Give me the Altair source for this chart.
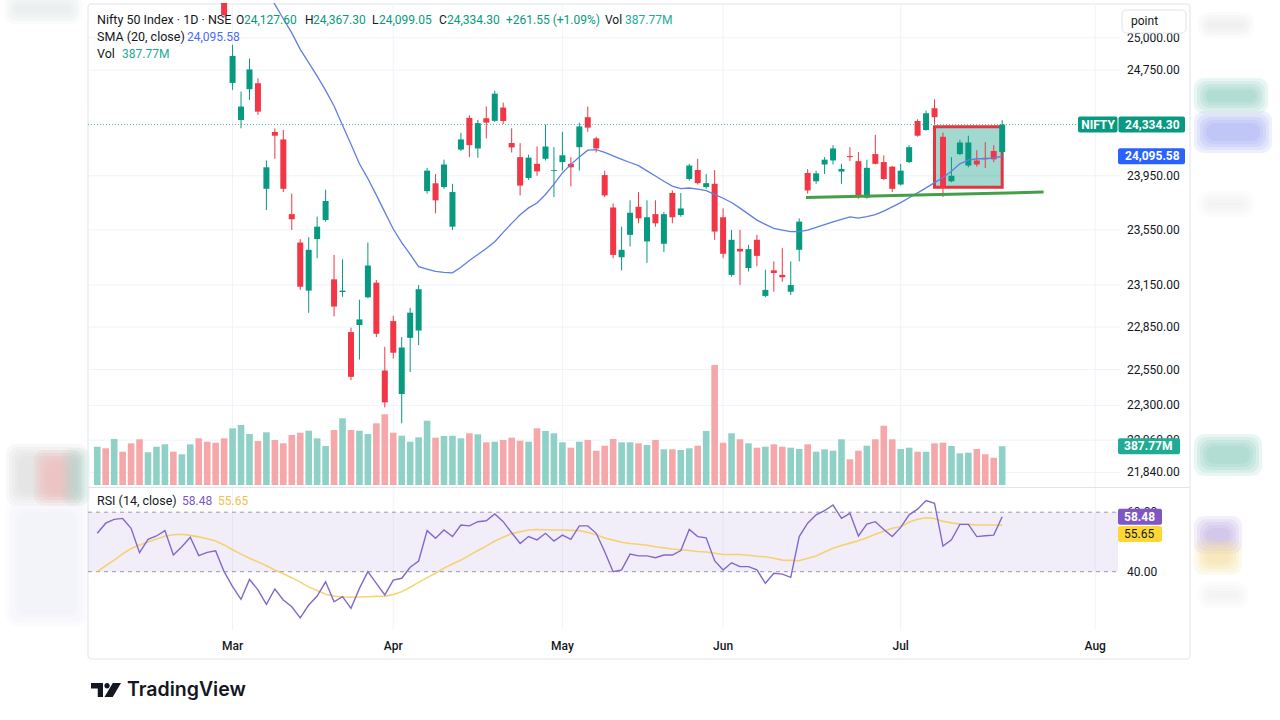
import altair as alt
import pandas as pd

# ---------------- daily sessions, oldest first ----------------
opens = [
    25520, 25650, 25580, 25720, 25660, 25540, 25380, 25470, 25520, 25590,
    25420, 25490, 25600, 25520, 25540, 25480, 24651, 24369, 24603, 24649,
    23853, 24278, 24222, 23666, 23458, 23110, 23483, 23623, 23191, 23100,
    22814, 22864, 23062, 23167, 22543, 22892, 22379, 22773, 22825, 23836,
    23894, 23866, 23574, 24146, 24385, 24154, 24382, 24362, 24463, 24195,
    24089, 23933, 24039, 24077, 23986, 24052, 24039, 24164, 24390, 24230,
    23955, 23715, 23351, 23514, 23720, 23466, 23666, 23449, 23822, 23659,
    23926, 23993, 23866, 23890, 23643, 23223, 23412, 23273, 23478, 23072,
    23256, 23223, 23102, 23405, 23971, 23909, 24034, 24064, 23981, 24097,
    24059, 23788, 24112, 24052, 24018, 23885, 24052, 24361, 24293, 24458,
    24242, 23909, 24112, 24026, 24064, 24084, 24135, 24127.60,
]
highs = [
    25610, 25690, 25700, 25760, 25680, 25560, 25500, 25560, 25620, 25600,
    25520, 25620, 25610, 25560, 25580, 25500, 24945, 24585, 24838, 24687,
    24064, 24306, 24293, 23817, 23483, 23497, 23647, 23846, 23368, 23336,
    22845, 23045, 23458, 23186, 22709, 22930, 22779, 22987, 23150, 24009,
    23963, 24070, 23890, 24272, 24405, 24370, 24471, 24592, 24501, 24306,
    24194, 24108, 24169, 24334, 24164, 24280, 24089, 24349, 24471, 24242,
    23988, 23744, 23574, 23768, 23829, 23768, 23768, 23683, 23841, 23822,
    24039, 24077, 23963, 23993, 23708, 23550, 23550, 23441, 23514, 23261,
    23321, 23417, 23321, 23635, 24000, 23988, 24089, 24179, 24039, 24164,
    24127, 24070, 24257, 24102, 24024, 24039, 24179, 24374, 24440, 24526,
    24273, 24089, 24219, 24250, 24141, 24202, 24179, 24367.30,
]
lows = [
    25480, 25560, 25560, 25640, 25540, 25360, 25350, 25450, 25500, 25420,
    25400, 25470, 25440, 25480, 25500, 25160, 24598, 24306, 24521, 24407,
    23696, 24077, 23829, 23550, 23115, 22951, 23343, 23611, 22926, 23066,
    22476, 22620, 23055, 22779, 22286, 22627, 22176, 22532, 22722, 23817,
    23672, 23853, 23550, 24135, 24089, 24084, 24230, 24354, 24339, 24124,
    23804, 23919, 23950, 24064, 23792, 23988, 23870, 23988, 24280, 24124,
    23792, 23343, 23255, 23429, 23599, 23311, 23574, 23388, 23599, 23647,
    23914, 23885, 23853, 23478, 23343, 23211, 23150, 23248, 23285, 23062,
    23102, 23174, 23079, 23321, 23817, 23890, 23963, 24034, 23890, 24059,
    23780, 23780, 24034, 23919, 23829, 23877, 24044, 24243, 24288, 24339,
    23792, 23901, 24104, 24013, 24018, 24008, 24052, 24099.05,
]
closes = [
    25590, 25600, 25680, 25690, 25560, 25380, 25480, 25530, 25600, 25440,
    25500, 25600, 25460, 25500, 25520, 25177, 24859, 24471, 24755, 24432,
    24013, 24250, 23853, 23628, 23138, 23405, 23574, 23763, 22996, 23110,
    22499, 22904, 23291, 22802, 22321, 22668, 22705, 22952, 23120, 23988,
    23768, 24034, 23829, 24222, 24179, 24345, 24349, 24569, 24361, 24162,
    23877, 24085, 23983, 24169, 23992, 24103, 24013, 24320, 24311, 24154,
    23804, 23368, 23405, 23676, 23635, 23643, 23599, 23666, 23643, 23708,
    24026, 23895, 23895, 23538, 23376, 23478, 23393, 23410, 23361, 23115,
    23237, 23206, 23150, 23611, 23841, 23968, 24070, 24154, 24001, 24089,
    23792, 24009, 24039, 23926, 23853, 23988, 24164, 24250, 24420, 24390,
    23860, 23950, 24199, 24199, 24034, 24074, 24072.75, 24334.30,
]
# volume in millions
volume_m = [
    383, 367, 460, 333, 417, 457, 327, 383, 407, 333,
    307, 407, 467, 433, 423, 467, 567, 600, 510, 440,
    527, 450, 417, 500, 523, 543, 467, 390, 550, 667,
    550, 543, 510, 617, 707, 523, 493, 433, 477, 643,
    473, 490, 493, 467, 517, 507, 427, 433, 450, 473,
    443, 433, 567, 540, 517, 427, 373, 433, 450, 343,
    393, 460, 427, 427, 417, 400, 450, 357, 357, 350,
    367, 393, 540, 1200, 423, 517, 457, 417, 373, 383,
    407, 383, 373, 360, 407, 333, 357, 343, 457, 257,
    343, 393, 457, 593, 457, 360, 373, 333, 333, 417,
    423, 390, 317, 323, 360, 307, 273, 387.77,
]
# 20-session simple moving average of the close (first 19 sessions not shown)
sma20 = [None] * 19 + [
    25450, 25360, 25261, 25148, 25038, 24910, 24807, 24703, 24594, 24475,
    24329, 24186, 24039, 23929, 23806, 23681, 23557, 23457, 23372, 23283,
    23265, 23248, 23241, 23238, 23278, 23327, 23371, 23415, 23464, 23532,
    23598, 23661, 23712, 23748, 23811, 23888, 23972, 24035, 24090, 24141,
    24145, 24125, 24098, 24073, 24049, 24025, 23986, 23948, 23909, 23873,
    23855, 23859, 23851, 23839, 23812, 23783, 23752, 23710, 23666, 23622,
    23591, 23561, 23549, 23537, 23537, 23548, 23569, 23589, 23609, 23628,
    23646, 23636, 23648, 23663, 23688, 23719, 23751, 23787, 23823, 23860,
    23899, 23937, 23983, 24039, 24067, 24077, 24077, 24083, 24095.58,
]
rsi14 = [
    52.9, 56.3, 57.6, 57.9, 54.6, 46.4, 50.9, 52.0, 53.8, 45.6,
    48.4, 51.6, 45.4, 46.5, 47.0, 40.0, 35.0, 30.7, 37.4, 33.9,
    29.0, 34.2, 30.5, 28.2, 24.5, 28.8, 31.8, 36.6, 29.9, 31.6,
    27.7, 34.4, 40.0, 36.1, 32.2, 37.2, 37.8, 41.5, 43.6, 53.8,
    51.2, 54.0, 51.8, 55.7, 55.4, 56.8, 57.1, 59.4, 56.8, 53.1,
    49.5, 51.8, 50.7, 52.9, 50.3, 52.3, 50.9, 55.4, 55.4, 52.9,
    46.7, 40.0, 40.6, 45.9, 45.3, 45.3, 44.7, 45.6, 45.6, 47.1,
    54.2, 51.8, 51.4, 43.7, 40.6, 43.0, 41.7, 41.7, 40.6, 36.1,
    39.5, 39.2, 38.1, 51.8, 56.3, 59.1, 60.5, 62.4, 57.9, 59.6,
    52.0, 56.0, 56.8, 54.2, 51.8, 54.9, 59.1, 61.0, 63.9, 63.0,
    48.6, 50.7, 55.9, 55.9, 51.8, 52.1, 52.3, 58.48,
]
rsi_ma = [
    40.0, 42.0, 43.9, 46.0, 47.8, 49.0, 50.0, 51.0, 51.9, 52.4,
    52.6, 52.2, 51.7, 51.1, 50.3, 49.0, 47.4, 45.9, 44.5, 43.3,
    42.0, 40.6, 39.3, 38.0, 36.5, 34.9, 33.7, 32.4, 31.8, 31.5,
    31.4, 31.5, 31.6, 31.7, 31.8, 32.3, 33.3, 34.8, 36.4, 38.0,
    39.5, 41.2, 42.6, 43.9, 45.5, 47.1, 48.6, 50.3, 51.6, 52.8,
    53.4, 54.0, 54.2, 54.1, 54.0, 54.0, 53.9, 53.8, 53.2, 52.4,
    51.3, 50.6, 49.9, 49.5, 49.2, 48.9, 48.4, 48.0, 47.6, 47.4,
    47.1, 46.8, 46.6, 46.2, 45.8, 45.8, 45.8, 45.5, 45.2, 45.0,
    44.5, 43.9, 43.8, 43.7, 44.5, 45.3, 46.6, 47.9, 48.8, 49.6,
    50.4, 51.4, 52.6, 53.6, 54.6, 55.1, 56.7, 57.6, 58.1, 57.9,
    56.9, 56.4, 56.0, 55.9, 55.7, 55.7, 55.7, 55.65,
]

month_labels = ["Mar", "Apr", "May", "Jun", "Jul", "Aug"]
month_session = [16, 35, 55, 74, 95, 118]
price_ticks = [25000, 24750, 23950, 23550, 23150, 22850, 22550, 22300, 22060, 21840]
rsi_levels = [60, 40]

# drawings on the price pane
box_sessions = [99.0, 107.0]
box_prices = [24318, 23864]
support_sessions = [83.8, 111.9]
support_prices = [23788, 23829]

# ---------------- style ----------------
FONT = "Roboto"
INK = "#131722"
TEAL = "#089981"
RED = "#F23645"
VOL_UP = "#8FD1C6"
VOL_DN = "#F6A7A9"
SMA_BLUE = "#5F7FE3"
BADGE_BLUE = "#2962FF"
VOL_TEAL = "#22AB94"
RSI_PURPLE = "#7E57C2"
RSI_YELLOW = "#F5CD5A"
GRID = "#F0F3FA"
BORDER = "#E0E3EB"

LEFT, TOP = 88, 3
W, H = 1032, 656


def px(x):
    return x - LEFT


def py(y):
    return y - TOP


X = alt.Scale(domain=[-0.5035, 120.34], nice=False, zero=False)
PRICE = alt.Scale(type="log", domain=[21741.4, 25271.3], range=[484, 0], nice=False, zero=False)
VOL = alt.Scale(domain=[0, 3000], range=[482, 182], nice=False, zero=False)
RSI = alt.Scale(domain=[20.41, 67.45], range=[627, 487], nice=False, zero=False)

n = len(closes)
df = pd.DataFrame({
    "i": list(range(n)),
    "open": opens, "high": highs, "low": lows, "close": closes,
    "volume": volume_m, "sma": sma20, "rsi": rsi14, "rsi_ma": rsi_ma,
})
last = df.iloc[[-1]].reset_index(drop=True)
UP = "datum.close >= datum.open"
xi = alt.X("i:Q", scale=X, axis=None)


def one():
    return alt.Chart(pd.DataFrame({"k": [0]}))


def box(x0, y0, x1, y1, **kw):
    return one().mark_rect(**kw).encode(
        x=alt.value(px(x0)), x2=alt.value(px(x1)),
        y=alt.value(py(y0)), y2=alt.value(py(y1)))


def label(s, x, y, color=INK, size=12, weight="normal", align="left", font=FONT):
    return alt.Chart(pd.DataFrame({"s": [s]})).mark_text(
        align=align, baseline="middle", font=font, fontSize=size,
        fontWeight=weight, color=color,
    ).encode(x=alt.value(px(x)), y=alt.value(py(y)), text="s:N")


def blob(x0, y0, x1, y1, color, alpha=0.16):
    # stacked translucent rects give a soft, blurred edge
    return [box(x0 - d, y0 - d, x1 + d, y1 + d, color=color, opacity=alpha, cornerRadius=10)
            for d in (10, 7, 4, 1, -2)]


layers = []

# soft backdrop on both sides of the card
for b in [
    (14, 3, 72, 14, "#E3E8E6"),
    (16, 454, 78, 496, "#D6D6D6"),
    (44, 460, 72, 496, "#F2AFAF"),
    (72, 458, 80, 496, "#A6D8CF"),
    (16, 510, 78, 616, "#EEEAF6"),
    (1204, 88, 1258, 104, "#7FC8B4"),
    (1204, 121, 1262, 143, "#93A3F2"),
    (1204, 444, 1252, 466, "#7FC9B7"),
    (1204, 526, 1232, 544, "#B6A3E3"),
    (1204, 549, 1232, 565, "#F2DB8C"),
    (1208, 22, 1244, 28, "#E8E8E8"),
    (1208, 201, 1244, 207, "#EDEDED"),
    (1208, 592, 1238, 598, "#EDEDED"),
]:
    layers += blob(*b)

# card outline
layers.append(box(88, 4, 1190, 659, fillOpacity=0, stroke=BORDER, strokeWidth=1, cornerRadius=3))

months = pd.DataFrame({"i": month_session, "m": month_labels})
layers.append(alt.Chart(months).mark_rule(color=GRID, strokeWidth=1).encode(
    x=xi, y=alt.value(0), y2=alt.value(py(630))))

ticks_df = pd.DataFrame({"p": price_ticks})
layers.append(alt.Chart(ticks_df).mark_rule(color=GRID, strokeWidth=1).encode(
    x=alt.value(0), x2=alt.value(W), y=alt.Y("p:Q", scale=PRICE, axis=None)))

# RSI band and level lines
band_df = pd.DataFrame({"hi": [rsi_levels[0]], "lo": [rsi_levels[1]]})
layers.append(alt.Chart(band_df).mark_rect(color=RSI_PURPLE, opacity=0.1).encode(
    x=alt.value(0), x2=alt.value(px(1118)),
    y=alt.Y("hi:Q", scale=RSI, axis=None), y2="lo:Q"))
layers.append(alt.Chart(pd.DataFrame({"v": rsi_levels})).mark_rule(
    color="#787B86", strokeDash=[4, 4], strokeWidth=1, opacity=0.75).encode(
    x=alt.value(0), x2=alt.value(px(1118)), y=alt.Y("v:Q", scale=RSI, axis=None)))

# pane separator
layers.append(box(88, 487, 1190, 488, color=BORDER))

# volume
layers.append(alt.Chart(df).mark_bar(size=6.6).encode(
    x=xi, y=alt.Y("volume:Q", scale=VOL, axis=None), y2=alt.datum(0),
    color=alt.condition(UP, alt.value(VOL_UP), alt.value(VOL_DN))))

# consolidation box
box_df = pd.DataFrame({"x0": [box_sessions[0]], "x1": [box_sessions[1]],
                       "y0": [box_prices[0]], "y1": [box_prices[1]]})
layers.append(alt.Chart(box_df).mark_rect(fill=TEAL, fillOpacity=0.38, stroke="#E5333F",
                                          strokeWidth=3).encode(
    x=alt.X("x0:Q", scale=X, axis=None), x2="x1:Q",
    y=alt.Y("y0:Q", scale=PRICE, axis=None), y2="y1:Q"))

# candles
layers.append(alt.Chart(df).mark_rule(strokeWidth=1, clip=True).encode(
    x=xi, y=alt.Y("low:Q", scale=PRICE, axis=None), y2="high:Q",
    color=alt.condition(UP, alt.value(TEAL), alt.value(RED))))
layers.append(alt.Chart(df).mark_bar(size=6, clip=True).encode(
    x=xi, y=alt.Y("open:Q", scale=PRICE, axis=None), y2="close:Q",
    color=alt.condition(UP, alt.value(TEAL), alt.value(RED))))

# SMA 20
layers.append(alt.Chart(df).transform_filter("isValid(datum.sma)").mark_line(
    color=SMA_BLUE, strokeWidth=1.3, clip=True).encode(
    x=xi, y=alt.Y("sma:Q", scale=PRICE, axis=None)))

# support line
sup_df = pd.DataFrame({"i": support_sessions, "p": support_prices})
layers.append(alt.Chart(sup_df).mark_line(color="#43A047", strokeWidth=3).encode(
    x=xi, y=alt.Y("p:Q", scale=PRICE, axis=None)))

# last price line
layers.append(alt.Chart(last).mark_rule(color=TEAL, strokeDash=[1, 2], strokeWidth=1,
                                        opacity=0.7).encode(
    x=alt.value(0), x2=alt.value(px(1078)), y=alt.Y("close:Q", scale=PRICE, axis=None)))

# RSI and its moving average
layers.append(alt.Chart(df).mark_line(color=RSI_YELLOW, strokeWidth=1.6, opacity=0.85).encode(
    x=xi, y=alt.Y("rsi_ma:Q", scale=RSI, axis=None)))
layers.append(alt.Chart(df).mark_line(color="#8468C9", strokeWidth=1.4).encode(
    x=xi, y=alt.Y("rsi:Q", scale=RSI, axis=None)))

# axis labels
layers.append(alt.Chart(ticks_df).mark_text(align="left", baseline="middle", font=FONT,
                                            fontSize=12, color=INK).encode(
    x=alt.value(px(1127)), y=alt.Y("p:Q", scale=PRICE, axis=None),
    text=alt.Text("p:Q", format=",.2f")))
layers.append(alt.Chart(pd.DataFrame({"v": rsi_levels})).mark_text(
    align="left", baseline="middle", font=FONT, fontSize=12, color=INK).encode(
    x=alt.value(px(1127)), y=alt.Y("v:Q", scale=RSI, axis=None),
    text=alt.Text("v:Q", format=".2f")))
layers.append(alt.Chart(months).mark_text(align="center", baseline="middle", font=FONT,
                                          fontSize=12, fontWeight=500, color=INK).encode(
    x=xi, y=alt.value(py(646)), text="m:N"))


# value badges on the right scale
def badge(field, scale, x0, x1, color, shift=0):
    return alt.Chart(last).mark_rect(color=color, yOffset=shift - 8, y2Offset=shift + 8,
                                     cornerRadius=2).encode(
        x=alt.value(px(x0)), x2=alt.value(px(x1)),
        y=alt.Y(f"{field}:Q", scale=scale, axis=None), y2=f"{field}:Q")


def badge_text(field, scale, x, color, fmt, shift=0, weight="bold", align="left", suffix=""):
    base = alt.Chart(last).transform_calculate(lbl=f"format(datum.{field}, '{fmt}') + '{suffix}'")
    return base.mark_text(align=align, baseline="middle", font=FONT, fontSize=12,
                          fontWeight=weight, color=color, yOffset=shift).encode(
        x=alt.value(px(x)), y=alt.Y(f"{field}:Q", scale=scale, axis=None), text="lbl:N")


layers.append(badge("close", PRICE, 1078, 1117.5, TEAL))
layers.append(badge("close", PRICE, 1118.5, 1185, TEAL))
layers.append(alt.Chart(last).mark_text(text="NIFTY", align="center", baseline="middle",
                                        font=FONT, fontSize=12, fontWeight="bold",
                                        color="white").encode(
    x=alt.value(px(1098)), y=alt.Y("close:Q", scale=PRICE, axis=None)))
layers.append(badge_text("close", PRICE, 1125, "white", ",.2f"))

layers.append(badge("sma", PRICE, 1118, 1185, BADGE_BLUE))
layers.append(badge_text("sma", PRICE, 1125, "white", ",.2f"))

layers.append(badge("volume", VOL, 1118, 1180, VOL_TEAL))
layers.append(badge_text("volume", VOL, 1124, "white", ".2f", suffix="M"))

layers.append(badge("rsi", RSI, 1118, 1162, RSI_PURPLE))
layers.append(badge_text("rsi", RSI, 1124, "white", ".2f"))
layers.append(badge("rsi_ma", RSI, 1118, 1162, "#FDD835", shift=9))
layers.append(badge_text("rsi_ma", RSI, 1124, INK, ".2f", shift=9, weight="normal"))

# scale mode button
layers.append(box(1122, 10, 1186, 33, fill="white", stroke=BORDER, strokeWidth=1, cornerRadius=4))
layers.append(label("point", 1131, 21, size=12))

# legend texts
o, h, l, c = opens[-1], highs[-1], lows[-1], closes[-1]
chg = c - closes[-2]
pct = chg / closes[-2] * 100
vol_txt = f"{volume_m[-1]:.2f}M"
hdr_y = 20
layers += [
    label("Nifty 50 Index · 1D · NSE", 97, hdr_y, size=12.5),
    label("O", 236, hdr_y), label(f"{o:,.2f}", 244, hdr_y, TEAL),
    label("H", 305, hdr_y), label(f"{h:,.2f}", 313, hdr_y, TEAL),
    label("L", 372, hdr_y), label(f"{l:,.2f}", 379, hdr_y, TEAL),
    label("C", 439, hdr_y), label(f"{c:,.2f}", 447, hdr_y, TEAL),
    label(f"{chg:+,.2f} ({pct:+.2f}%)", 506, hdr_y, TEAL),
    label("Vol", 605, hdr_y), label(vol_txt, 625, hdr_y, VOL_TEAL),
    label("SMA (20, close)", 97, 37, size=12.5), label(f"{sma20[-1]:,.2f}", 187, 37, "#4A6CF7"),
    label("Vol", 97, 54, size=12.5), label(vol_txt, 122, 54, VOL_TEAL),
    label("RSI (14, close)", 97, 501, size=12.5),
    label(f"{rsi14[-1]:.2f}", 182, 501, RSI_PURPLE),
    label(f"{rsi_ma[-1]:.2f}", 218, 501, "#EFC24A"),
]

# TradingView mark
LOGO = ("M-1,-0.467 H-0.2 V0.467 H-0.55 V-0.1 H-1 Z "
        "M-0.11,-0.28 A0.18,0.18 0 1,1 0.25,-0.28 A0.18,0.18 0 1,1 -0.11,-0.28 Z "
        "M0.45,-0.467 H1 L0.45,0.467 H-0.1 Z")
layers.append(one().mark_point(shape=LOGO, filled=True, size=900, color=INK, opacity=1).encode(
    x=alt.value(px(106)), y=alt.value(py(690))))
layers.append(label("TradingView", 127, 690, INK, size=19.5, weight=600, font="Inter"))

chart = alt.layer(*layers).resolve_scale(y="independent").properties(
    width=W, height=H,
    padding={"left": LEFT, "top": TOP, "right": 1280 - LEFT - W, "bottom": 720 - TOP - H},
    autosize=alt.AutoSizeParams(type="none"),
    background="white",
).configure_view(stroke=None)

chart.save("out.html", embed_options={"renderer": "svg", "actions": False})
